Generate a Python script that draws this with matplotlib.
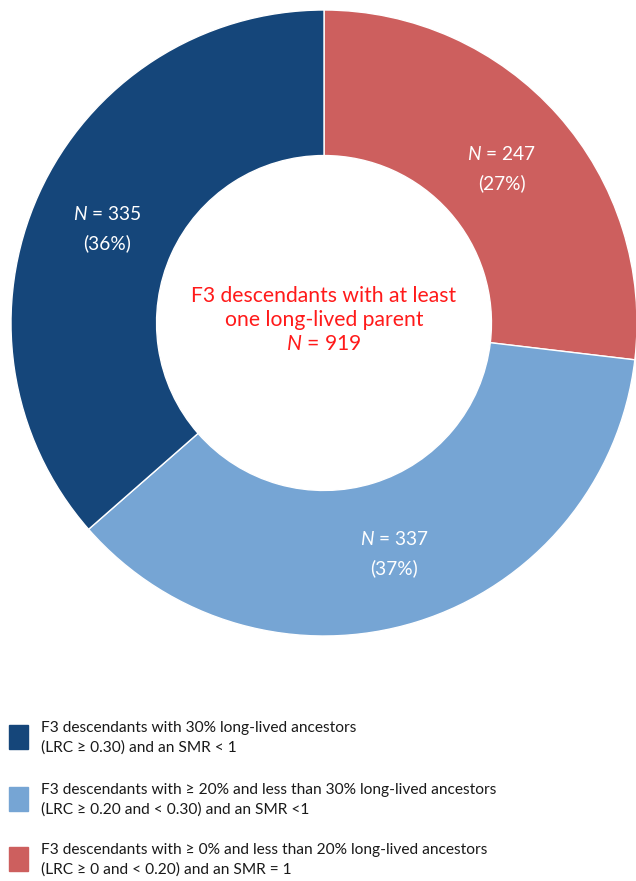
import numpy as np
import matplotlib.pyplot as plt
from matplotlib.patches import Rectangle

plt.rcParams['font.family'] = ['Lato', 'DejaVu Sans']
plt.rcParams['mathtext.fontset'] = 'custom'
plt.rcParams['mathtext.it'] = 'Lato:italic'
plt.rcParams['mathtext.rm'] = 'Lato'

# data (clockwise from 12 o'clock)
counts = [247, 337, 335]
pcts = [27, 37, 36]
colors = ['#CD5F5E', '#76A5D4', '#15467A']
total_n = 919
center_label = "F3 descendants with at least\none long-lived parent"
legend_labels = [
    "F3 descendants with 30% long-lived ancestors\n(LRC \u2265 0.30) and an SMR < 1",
    "F3 descendants with \u2265 20% and less than 30% long-lived ancestors\n(LRC \u2265 0.20 and < 0.30) and an SMR <1",
    "F3 descendants with \u2265 0% and less than 20% long-lived ancestors\n(LRC \u2265 0 and < 0.20) and an SMR = 1",
]
legend_colors = [colors[2], colors[1], colors[0]]

W, H = 636, 881
fig = plt.figure(figsize=(W / 100, H / 100), dpi=100)
ax = fig.add_axes([0, 0, 1, 1])

cx, cy, R = 324, H - 323, 313
ax.pie(counts, colors=colors, startangle=90, counterclock=False,
       center=(cx, cy), radius=R,
       wedgeprops=dict(width=R * 0.465, edgecolor='white', linewidth=1))
ax.set_xlim(0, W)
ax.set_ylim(0, H)
ax.set_aspect('equal')
ax.axis('off')

# slice labels
fracs = np.array(counts) / sum(counts)
ends = np.cumsum(fracs)
mids = ends - fracs / 2
for m, n, p in zip(mids, counts, pcts):
    ang = np.deg2rad(90 - 360 * m)
    x = cx + 0.76 * R * np.cos(ang)
    y = cy + 0.76 * R * np.sin(ang) - 3
    ax.text(x, y + 14, f"$N$ = {n}", color='white', fontsize=13.8,
            ha='center', va='center')
    ax.text(x, y - 15, f"({p}%)", color='white', fontsize=13.8,
            ha='center', va='center')

ax.text(cx, H - 320, center_label + f"\n$N$ = {total_n}", color='#FF1A1A',
        fontsize=15.2, ha='center', va='center', linespacing=1.25)

# legend
box_tops = [725, 787, 847]
for top, col, lab in zip(box_tops, legend_colors, legend_labels):
    ax.add_patch(Rectangle((9, H - top - 24), 19, 24, color=col))
    ax.text(41, H - top + 4, lab, fontsize=11.2, color='#1A1A1A',
            ha='left', va='top', linespacing=1.5)

fig.savefig('out.png', dpi=100)
